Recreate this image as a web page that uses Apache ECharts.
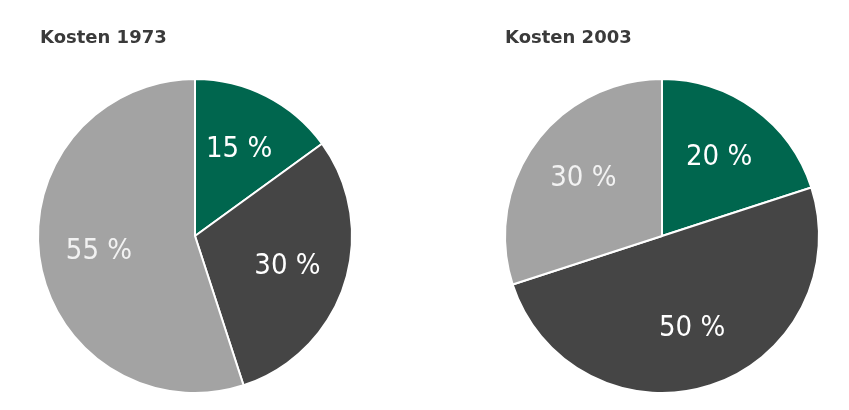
<!DOCTYPE html>
<html><head><meta charset="utf-8">
<script src="https://cdn.jsdelivr.net/npm/echarts@6/dist/echarts.min.js"></script>
<style>html,body{margin:0;background:#fff}#c{width:849px;height:410px}</style>
</head><body><div id="c"></div>
<script>
const categories = ['Grün', 'Dunkel', 'Hell'];
const values1973 = [15, 30, 55];
const values2003 = [20, 50, 30];
const titles = ['Kosten 1973', 'Kosten 2003'];
const colors = ['#00664e', '#454545', '#a3a3a3'];
const labelColors = ['#ffffff', '#ffffff', '#f2f2f2'];
const R = 157;
function data(vals){return vals.map((v,i)=>({name:categories[i],value:v,itemStyle:{color:colors[i]},label:{color:labelColors[i]}}));}
function pies(vals, cx){
  return [{
    type:'pie', center:[cx,236], radius:[0,R], startAngle:90, clockwise:true,
    silent:true, label:{show:false}, labelLine:{show:false},
    itemStyle:{borderColor:'#fff',borderWidth:2}, data:data(vals), animation:false
  },{
    type:'pie', center:[cx,236], radius:[R*0.2,R], startAngle:90, clockwise:true,
    silent:true, itemStyle:{color:'transparent',borderWidth:0},
    label:{show:true,position:'inside',formatter:'{c} %',fontSize:29,fontFamily:'DejaVu Sans Condensed, Liberation Sans Narrow, sans-serif'},
    data:vals.map((v,i)=>({name:categories[i],value:v,itemStyle:{color:'rgba(0,0,0,0)'},label:{color:labelColors[i]}})),
    animation:false
  }];
}
const chart = echarts.init(document.getElementById('c'));
chart.setOption({
  title:[
    {text:titles[0],left:35,top:24,textStyle:{fontSize:18,fontWeight:'bold',color:'#3a3a3a',fontFamily:'DejaVu Sans'}},
    {text:titles[1],left:500,top:24,textStyle:{fontSize:18,fontWeight:'bold',color:'#3a3a3a',fontFamily:'DejaVu Sans'}}
  ],
  series:[...pies(values1973,195),...pies(values2003,662)]
});
</script></body></html>
